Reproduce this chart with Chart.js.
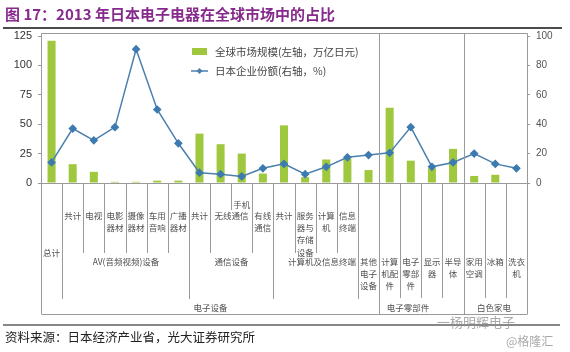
<!DOCTYPE html>
<html>
<head>
<meta charset="utf-8">
<script src="https://cdn.jsdelivr.net/npm/chart.js@4"></script>
<style>
  body { margin: 0; background: #fff; }
  #wrap { width: 570px; height: 352px; }
</style>
</head>
<body>
<div id="wrap"><canvas id="chart" width="570" height="352"></canvas></div>
<script>
// categories (multi-line labels as drawn under the chart)
const categories = [
    ['总计'], ['共计'], ['电视'], ['电影', '器材'], ['摄像', '器材'], ['车用', '音响'], ['广播', '器材'],
    ['共计'], ['无线通信'], ['手机'], ['有线', '通信'],
    ['共计'], ['服务', '器与', '存储', '设备'], ['计算', '机'], ['信息', '终端'],
    ['其他', '电子', '设备'],
    ['计算', '机配', '件'], ['电子', '零部', '件'], ['显示', '器'], ['半导', '体'],
    ['家用', '空调'], ['冰箱'], ['洗衣', '机']
];
// global market size, left axis (trillion yen)
const marketSize = [121, 16, 9.5, 1, 1, 2, 2, 42, 33, 25, 8, 49, 5, 20, 21, 11, 64, 19, 12.5, 29, 6, 7, null];
// Japanese companies' share, right axis (%)
const japanShare = [14, 37, 29, 38, 91, 50, 27, 7, 6, 4.5, 10, 13, 6, 11, 17.5, 19, 20.5, 38, 11, 14, 20, 13, 10];

const leftMax = 125, leftStep = 25;
const rightMax = 100, rightStep = 10;

const seriesNames = ['全球市场规模(左轴，万亿日元)', '日本企业份额(右轴，%)'];
const subGroups = [
    { name: 'AV(音频视频)设备', from: 1, to: 7, dx: 0 },
    { name: '通信设备', from: 7, to: 11, dx: 0 },
    { name: '计算机及信息终端', from: 11, to: 15, dx: 6 }
];
const topGroups = [
    { name: '电子设备', from: 0, to: 16, dx: 0 },
    { name: '电子零部件', from: 16, to: 20, dx: -14 },
    { name: '白色家电', from: 20, to: 23, dx: -2 }
];

const barColor = '#9fc83f';
const lineColor = '#4a7fae';
const cjk = '"Noto Sans CJK SC", "Noto Sans", sans-serif';

// how far down each category boundary line reaches
const boundaryDepth = [314, 299, 253, 253, 253, 253, 253, 299, 253, 210, 253, 299, 253, 253, 253, 299, 314, 298, 298, 298, 314, 298, 298, 314];

const decorPlugin = {
    id: 'decor',
    afterDraw(chart) {
        const ctx = chart.ctx;
        const x = chart.scales.x;
        const area = chart.chartArea;
        const half = (x.getPixelForValue(1) - x.getPixelForValue(0)) / 2;
        const bx = k => Math.round(x.getPixelForValue(0) - half + 2 * half * k) + 0.5;
        const top = 33.5, bottom = 314.5;

        ctx.save();
        // title
        ctx.fillStyle = '#862a8c';
        ctx.font = 'bold 15px ' + cjk;
        ctx.textBaseline = 'middle';
        ctx.textAlign = 'left';
        ctx.fillText('图 17：2013 年日本电子电器在全球市场中的占比', 5, 14);
        ctx.strokeStyle = '#111';
        ctx.lineWidth = 1.5;
        ctx.beginPath(); ctx.moveTo(3, 28); ctx.lineTo(562, 28); ctx.stroke();

        // frame and table lines
        ctx.strokeStyle = '#9a9a9a';
        ctx.lineWidth = 1;
        ctx.beginPath();
        ctx.moveTo(bx(0), top); ctx.lineTo(bx(23), top);
        ctx.moveTo(bx(0), Math.round(area.bottom) + 0.5); ctx.lineTo(bx(23), Math.round(area.bottom) + 0.5);
        ctx.moveTo(bx(0), bottom); ctx.lineTo(bx(23), bottom);
        for (let k = 0; k <= 23; k++) {
            const y0 = (k === 0 || k === 16 || k === 20 || k === 23) ? top : area.bottom;
            ctx.moveTo(bx(k), y0);
            ctx.lineTo(bx(k), boundaryDepth[k]);
        }
        ctx.stroke();

        // category labels
        ctx.fillStyle = '#505050';
        ctx.font = '8.5px ' + cjk;
        ctx.textAlign = 'center';
        const lh = 12.2;
        categories.forEach((lines, i) => {
            let cx = x.getPixelForValue(i);
            let y = 215.7;
            if (i === 0) y = 252.7;
            else if (i === 8) cx = bx(9);
            else if (i === 9) y = 205;
            else if (i >= 15) y = 261.7;
            lines.forEach((t, j) => ctx.fillText(t, cx, y + j * lh));
        });
        subGroups.forEach(g => ctx.fillText(g.name, (bx(g.from) + bx(g.to)) / 2 + g.dx, 261.7));
        topGroups.forEach(g => ctx.fillText(g.name, (bx(g.from) + bx(g.to)) / 2 + g.dx, 307.5));

        // legend
        ctx.textAlign = 'left';
        ctx.font = '10.5px ' + cjk;
        ctx.fillStyle = barColor;
        ctx.fillRect(192, 48, 15, 7);
        ctx.strokeStyle = lineColor;
        ctx.lineWidth = 1.5;
        ctx.beginPath(); ctx.moveTo(191, 71); ctx.lineTo(208, 71); ctx.stroke();
        ctx.fillStyle = lineColor;
        ctx.beginPath();
        ctx.moveTo(199.5, 68); ctx.lineTo(202.5, 71); ctx.lineTo(199.5, 74); ctx.lineTo(196.5, 71); ctx.closePath();
        ctx.fill();
        ctx.fillStyle = '#444';
        ctx.fillText(seriesNames[0], 215, 52);
        ctx.fillText(seriesNames[1], 215, 71);

        // footer
        ctx.strokeStyle = '#111';
        ctx.lineWidth = 1.2;
        ctx.beginPath(); ctx.moveTo(3, 325); ctx.lineTo(560, 325); ctx.stroke();
        ctx.fillStyle = '#222';
        ctx.font = '12.5px ' + cjk;
        ctx.fillText('资料来源：日本经济产业省，光大证券研究所', 5, 337);
        // watermark
        ctx.fillStyle = 'rgba(140,140,140,0.75)';
        ctx.font = '13px ' + cjk;
        ctx.fillText('一杨明辉电子', 437, 322);
        ctx.font = '12px ' + cjk;
        ctx.fillText('@格隆汇', 506, 341);
        ctx.restore();
    }
};

new Chart(document.getElementById('chart'), {
    type: 'bar',
    data: {
        labels: categories,
        datasets: [{
            type: 'line',
            label: seriesNames[1],
            data: japanShare,
            yAxisID: 'y1',
            borderColor: lineColor,
            borderWidth: 1.5,
            pointStyle: 'rectRot',
            pointRadius: 3.3,
            pointBackgroundColor: '#3d7ab0',
            pointBorderColor: '#3d7ab0',
            tension: 0,
            order: 0
        }, {
            label: seriesNames[0],
            data: marketSize,
            yAxisID: 'y',
            backgroundColor: barColor,
            categoryPercentage: 1,
            barPercentage: 0.38,
            order: 1
        }]
    },
    options: {
        responsive: false,
        animation: false,
        layout: { padding: { top: 36, bottom: 169, left: 0, right: 0 } },
        scales: {
            x: { display: false },
            y: {
                position: 'left',
                min: 0,
                max: leftMax,
                afterFit: s => { s.width = 41; },
                ticks: { stepSize: leftStep, padding: 6, color: '#333', font: { family: 'Liberation Sans', size: 11 } },
                grid: { drawOnChartArea: false, tickLength: 3, color: '#999' },
                border: { display: false }
            },
            y1: {
                position: 'right',
                min: 0,
                max: rightMax,
                afterFit: s => { s.width = 43; },
                ticks: { stepSize: rightStep, padding: 6, color: '#555', font: { family: 'Liberation Sans', size: 10 } },
                grid: { drawOnChartArea: false, tickLength: 3, color: '#999' },
                border: { display: false }
            }
        },
        plugins: {
            legend: { display: false },
            tooltip: { enabled: false }
        }
    },
    plugins: [decorPlugin]
});
</script>
</body>
</html>
